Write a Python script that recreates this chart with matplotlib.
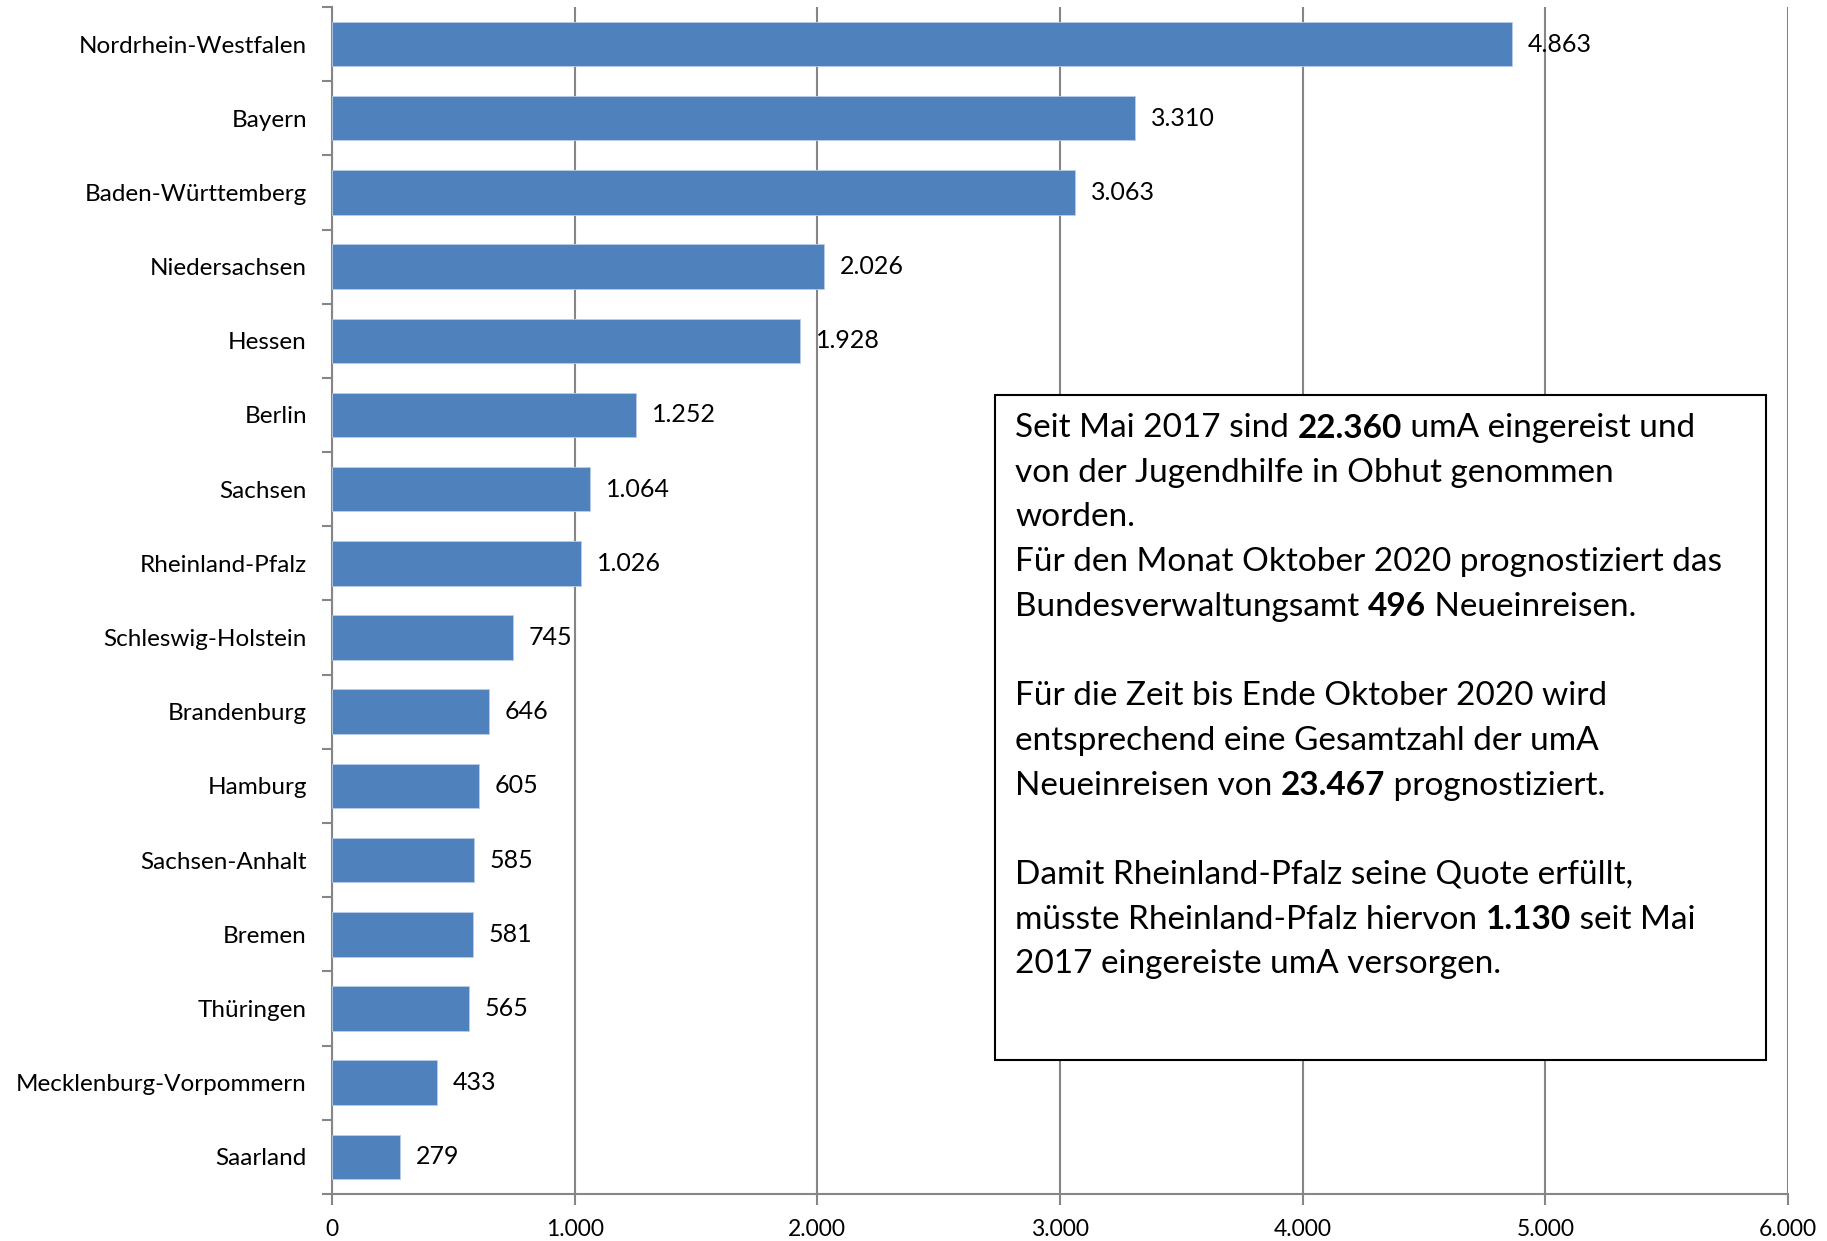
import matplotlib.pyplot as plt
import numpy as np
from matplotlib.ticker import FuncFormatter, FixedLocator

plt.rcParams['font.family'] = ['Lato', 'DejaVu Sans']

# Daten
laender = ['Nordrhein-Westfalen', 'Bayern', 'Baden-Württemberg', 'Niedersachsen', 'Hessen',
           'Berlin', 'Sachsen', 'Rheinland-Pfalz', 'Schleswig-Holstein', 'Brandenburg',
           'Hamburg', 'Sachsen-Anhalt', 'Bremen', 'Thüringen', 'Mecklenburg-Vorpommern',
           'Saarland']
werte = [4863, 3310, 3063, 2026, 1928, 1252, 1064, 1026, 745, 646, 605, 585, 581, 565, 433, 279]

info_zeilen = [
    [('Seit Mai 2017 sind ', 'normal'), ('22.360', 'bold'), (' umA eingereist und', 'normal')],
    [('von der Jugendhilfe in Obhut genommen', 'normal')],
    [('worden.', 'normal')],
    [('Für den Monat Oktober 2020 prognostiziert das', 'normal')],
    [('Bundesverwaltungsamt ', 'normal'), ('496', 'bold'), (' Neueinreisen.', 'normal')],
    [],
    [('Für die Zeit bis Ende Oktober 2020 wird', 'normal')],
    [('entsprechend eine Gesamtzahl der umA', 'normal')],
    [('Neueinreisen von ', 'normal'), ('23.467', 'bold'), (' prognostiziert.', 'normal')],
    [],
    [('Damit Rheinland-Pfalz seine Quote erfüllt,', 'normal')],
    [('müsste Rheinland-Pfalz hiervon ', 'normal'), ('1.130', 'bold'), (' seit Mai', 'normal')],
    [('2017 eingereiste umA versorgen.', 'normal')],
]


def punkt(x, pos=None):
    return f'{int(x):,}'.replace(',', '.')


fig = plt.figure(figsize=(18.27, 12.41), dpi=100)
ax = fig.add_axes([0.1817, 0.0379, 0.797, 0.9565])

y = np.arange(len(laender))
ax.barh(y, werte, height=0.6, color='#4F81BD', edgecolor='#B9CDE5', linewidth=0.6, zorder=3)
for yi, v in zip(y, werte):
    ax.text(v + 65, yi, punkt(v), va='center', ha='left', fontsize=18, zorder=4)

ax.set_ylim(len(laender) - 0.5, -0.5)
ax.set_xlim(0, 6000)
ax.set_yticks(y)
ax.set_yticklabels(laender, fontsize=17.5)
ax.yaxis.set_minor_locator(FixedLocator(np.arange(-0.5, len(laender), 1.0)))
ax.tick_params(axis='y', which='major', length=0, pad=18)
ax.tick_params(axis='y', which='minor', length=7, width=1.5, color='#868686')
ax.set_xticks(np.arange(0, 6001, 1000))
ax.xaxis.set_major_formatter(FuncFormatter(punkt))
ax.tick_params(axis='x', length=8, width=1.5, color='#868686', labelsize=16.5, pad=10)
ax.grid(axis='x', color='#868686', linewidth=1.5, zorder=0)
for s in ['top', 'right']:
    ax.spines[s].set_visible(False)
for s in ['left', 'bottom']:
    ax.spines[s].set_color('#868686')
    ax.spines[s].set_linewidth(1.5)

# Textkasten
kasten = plt.Rectangle((0.5446, 0.1459), 0.9666 - 0.5446, 0.6817 - 0.1459,
                       transform=fig.transFigure, facecolor='white', edgecolor='black',
                       linewidth=1.5, zorder=10)
fig.add_artist(kasten)

renderer = fig.canvas.get_renderer()
x0 = 1015 / 1827
y0 = 1 - 428 / 1241
schritt = 44.7 / 1241
for i, zeile in enumerate(info_zeilen):
    x = x0
    for teil, gewicht in zeile:
        t = fig.text(x, y0 - i * schritt, teil, fontsize=24, fontweight=gewicht,
                     va='center', ha='left', zorder=11)
        bb = t.get_window_extent(renderer=renderer)
        x += bb.width / fig.bbox.width

fig.savefig('out.png', dpi=100)
